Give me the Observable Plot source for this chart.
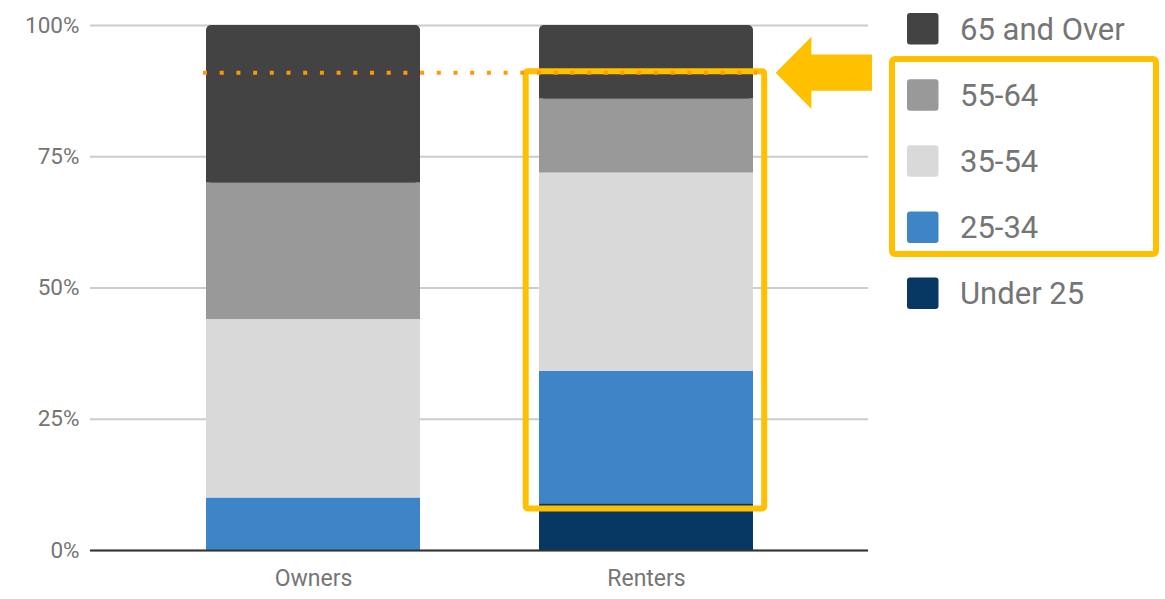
<!DOCTYPE html>
<html><head><meta charset="utf-8">
<script src="https://cdn.jsdelivr.net/npm/d3@7"></script>
<script src="https://cdn.jsdelivr.net/npm/@observablehq/plot@0.6"></script>
<style>html,body{margin:0;padding:0;background:#fff;} svg{display:block;}</style>
</head><body><div id="chart"></div>
<script>
const groups = ["Owners", "Renters"];
const ages = ["Under 25", "25-34", "35-54", "55-64", "65 and Over"];
const colors = ["#073763", "#3d85c6", "#d9d9d9", "#999999", "#434343"];
const owners = [0, 10, 34, 26, 30];
const renters = [8.9, 25.2, 37.8, 14.1, 14.0];
const yTicks = [0, 25, 50, 75, 100];
const dottedLevel = 90.9;
const boxTop = 91.2;
const boxBottom = 7.9;
const legendOrder = ["65 and Over", "55-64", "35-54", "25-34", "Under 25"];
const highlighted = ["55-64", "35-54", "25-34"];

const series = {Owners: owners, Renters: renters};
const rows = [];
for (const g of groups) {
  let acc = 0;
  series[g].forEach((v, i) => {
    rows.push({group: g, age: ages[i], y1: acc, y2: acc + v, top: i === ages.length - 1});
    acc += v;
  });
}

const W = 1165, H = 599;
const plot = Plot.plot({
  width: W, height: H,
  marginLeft: 90, marginRight: 297, marginTop: 25, marginBottom: 49,
  style: {fontFamily: "Roboto, sans-serif", fontSize: "23px", color: "#757575", background: "#fff"},
  x: {domain: groups, paddingInner: 0.358, paddingOuter: 0.345, label: null},
  y: {domain: [0, 100], label: null},
  color: {domain: ages, range: colors},
  marks: [
    Plot.gridY(yTicks, {stroke: "#cccccc", strokeOpacity: 1, strokeWidth: 2}),
    Plot.axisY(yTicks, {tickSize: 0, tickPadding: 11, tickFormat: d => d + "%", fill: "#757575", fontSize: 22.5, label: null}),
    Plot.axisX({tickSize: 0, tickPadding: 19, fill: "#757575", fontSize: 23, label: null}),
    Plot.barY(rows.filter(d => !d.top), {x: "group", y1: "y1", y2: "y2", fill: "age"}),
    Plot.barY(rows.filter(d => d.top), {x: "group", y1: "y1", y2: "y2", fill: "age", rx: 5}),
    Plot.barY(rows.filter(d => d.top), {x: "group", y1: "y1", y2: d => d.y2 - 3, fill: "age"}),
    Plot.ruleY([0], {stroke: "#333333", strokeWidth: 2})
  ]
});
document.getElementById("chart").appendChild(plot);

const svg = d3.select(plot);
const sx = plot.scale("x"), sy = plot.scale("y");
const bx = sx.apply("Renters"), bw = sx.bandwidth;
const ox = sx.apply("Owners");
const gold = "#ffc000", orange = "#ff9900";

// highlight box around Renters
svg.append("rect")
  .attr("x", bx - 13.3).attr("y", sy.apply(boxTop))
  .attr("width", bw + 24.5).attr("height", sy.apply(boxBottom) - sy.apply(boxTop))
  .attr("rx", 2).attr("fill", "none").attr("stroke", gold).attr("stroke-width", 6);

// dotted line
svg.append("line")
  .attr("x1", ox - 3).attr("x2", bx + bw + 4)
  .attr("y1", sy.apply(dottedLevel)).attr("y2", sy.apply(dottedLevel))
  .attr("stroke", orange).attr("stroke-width", 4).attr("stroke-dasharray", "4 12.7");

// arrow
const tx = bx + bw + 22.7, ty = sy.apply(dottedLevel);
const pts = [[tx, ty], [tx + 35.7, ty - 36], [tx + 35.7, ty - 18.4], [tx + 96.3, ty - 18.4],
  [tx + 96.3, ty + 18], [tx + 35.7, ty + 18], [tx + 35.7, ty + 36.3]];
svg.append("polygon").attr("points", pts.map(p => p.join(",")).join(" ")).attr("fill", gold);

// legend
const colorOf = a => colors[ages.indexOf(a)];
const rowY = i => 28.8 + 66.1 * i;
const lg = svg.append("g").attr("text-anchor", "start");
legendOrder.forEach((a, i) => {
  lg.append("rect").attr("x", 907).attr("y", rowY(i) - 15.7).attr("width", 31.5).attr("height", 31.5)
    .attr("rx", 3).attr("fill", colorOf(a));
  lg.append("text").attr("x", 960).attr("y", rowY(i) + 11).attr("text-anchor", "start")
    .attr("font-family", "Roboto, sans-serif").attr("font-size", 31).attr("fill", "#757575").text(a);
});
const hi0 = legendOrder.indexOf(highlighted[0]), hi1 = legendOrder.indexOf(highlighted[highlighted.length - 1]);
lg.append("rect").attr("x", 892).attr("y", rowY(hi0) - 36).attr("width", 264)
  .attr("height", rowY(hi1) + 27 - (rowY(hi0) - 36))
  .attr("rx", 3).attr("fill", "none").attr("stroke", gold).attr("stroke-width", 6);
</script>
</body></html>
